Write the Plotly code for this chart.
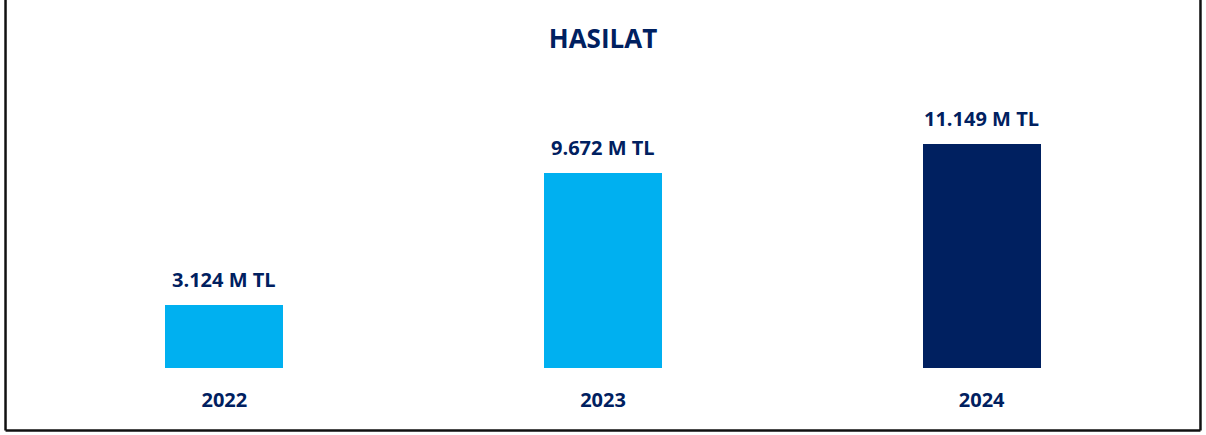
import plotly.graph_objects as go

years = ["2022", "2023", "2024"]
values = [3124, 9672, 11149]
labels = ["3.124 M TL", "9.672 M TL", "11.149 M TL"]
colors = ["#00B0F0", "#00B0F0", "#002060"]

NAVY = "#002060"
FONT = "Open Sans"

W, H = 1206, 435
ml, mr, mt, mb = 34.5, 34.5, 60, 67
pw = W - ml - mr
ph = H - mt - mb

fig = go.Figure()
fig.add_trace(go.Bar(x=years, y=values, marker=dict(color=colors, line=dict(width=0)),
                     width=0.311, hoverinfo="skip"))

# category axis: annotation x uses category index
for i, (v, lab) in enumerate(zip(values, labels)):
    fig.add_annotation(x=i, y=v, text="<b>%s</b>" % lab, showarrow=False,
                       yanchor="bottom", yshift=10,
                       font=dict(family=FONT, size=20, color=NAVY))

def px_to_paper_x(px):
    return (px - ml) / pw

def px_to_paper_y(py):
    return (H - mb - py) / ph

border = dict(color="#111111", width=2.5)
xl, xr = px_to_paper_x(5), px_to_paper_x(1201)
yb, yt = px_to_paper_y(430.5), px_to_paper_y(-5)
fig.add_shape(type="line", xref="paper", yref="paper", x0=xl, x1=xl, y0=yb, y1=yt, line=border)
fig.add_shape(type="line", xref="paper", yref="paper", x0=xr, x1=xr, y0=yb, y1=yt, line=border)
fig.add_shape(type="line", xref="paper", yref="paper", x0=xl, x1=xr, y0=yb, y1=yb, line=border)

fig.update_layout(
    width=W, height=H,
    margin=dict(l=ml, r=mr, t=mt, b=mb),
    paper_bgcolor="white", plot_bgcolor="white",
    showlegend=False,
    title=dict(text="<b>HASILAT</b>", x=0.5, xanchor="center", xref="paper",
               y=1 - 39 / H, yanchor="middle", yref="container",
               font=dict(family=FONT, size=26, color=NAVY)),
    xaxis=dict(type="category", range=[-0.5, 2.5], showgrid=False, zeroline=False, showline=False,
               ticks="", ticklabelstandoff=18,
               tickfont=dict(family=FONT, size=20, color=NAVY),
               tickprefix="<b>", ticksuffix="</b>"),
    yaxis=dict(range=[0, 15300], visible=False, showgrid=False, zeroline=False),
    bargap=0,
)

fig.write_html("out.html", config={"displayModeBar": False},
               post_script="document.body.style.margin='0px';")
